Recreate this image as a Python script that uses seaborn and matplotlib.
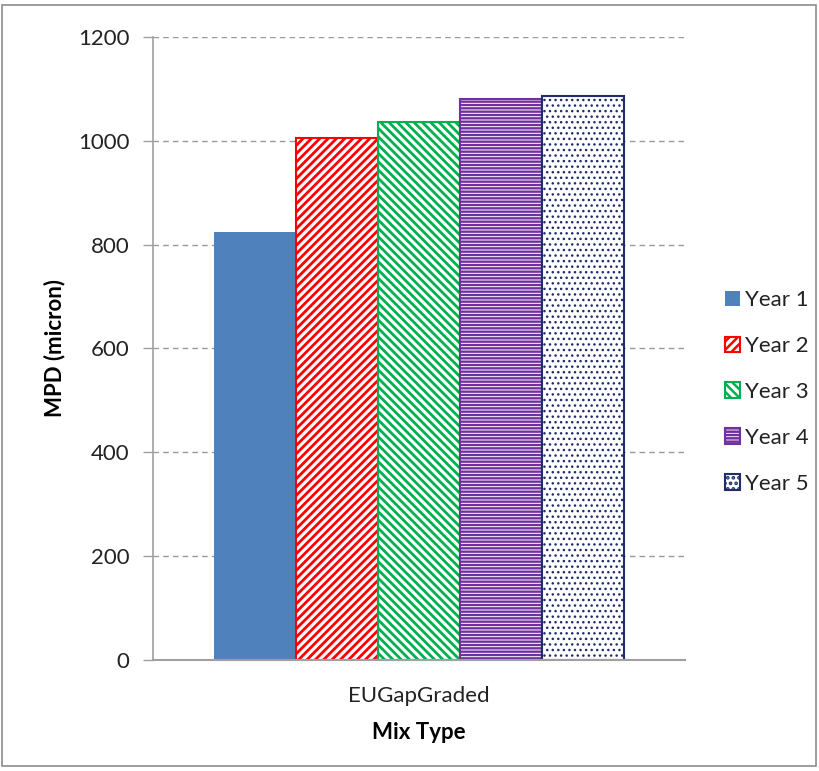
import matplotlib
matplotlib.use("Agg")
import matplotlib.pyplot as plt
import matplotlib.patches as mpatches
import seaborn as sns
import pandas as pd

categories = ["EUGapGraded"]
years = ["Year 1", "Year 2", "Year 3", "Year 4", "Year 5"]
values = [824, 1006, 1036, 1081, 1087]

face_colors = ["#4F81BD", "white", "white", "white", "white"]
edge_colors = ["#4F81BD", "#FF0000", "#00B050", "#7030A0", "#1F2D6B"]
hatch_colors = ["#4F81BD", "#FF0000", "#00B050", "#7030A0", "#6F7FB0"]
hatches = [None, "////", "\\\\\\\\", "-----", "..."]
hatch_lws = [1.0, 2.0, 2.0, 1.7, 1.0]

sns.set_theme(style="white")
plt.rcParams["font.family"] = ["Lato", "DejaVu Sans"]
plt.rcParams["hatch.linewidth"] = 1.8

df = pd.DataFrame({"Mix": categories * len(years), "Year": years, "MPD": values})

fig = plt.figure(figsize=(8.2, 7.71), dpi=100)
ax = fig.add_axes([0.1866, 0.144, 0.6488, 0.808])

sns.barplot(data=df, x="Mix", y="MPD", hue="Year", hue_order=years,
            palette=face_colors, width=0.771, gap=0, ax=ax, legend=False,
            saturation=1)


def style_patch(p, fc, ec, hc, h, hlw):
    p.set_facecolor(fc)
    p.set_edgecolor(ec)
    p.set_linewidth(1.5 if h else 0)
    if h:
        p.set_hatch(h)
        if hasattr(p, "set_hatch_linewidth"):
            p.set_hatch_linewidth(hlw)
        if hasattr(p, "set_hatchcolor"):
            p.set_hatchcolor(hc)


for patch, fc, ec, hc, h, hlw in zip(ax.patches, face_colors, edge_colors, hatch_colors, hatches, hatch_lws):
    style_patch(patch, fc, ec, hc, h, hlw)

ax.set_xlim(-0.5, 0.5)
ax.set_ylim(0, 1200)
ax.set_yticks(range(0, 1201, 200))
ax.yaxis.grid(True, linestyle=(0, (4, 3)), color="#9A9A9A", linewidth=1)
ax.set_axisbelow(True)
for s in ["top", "right"]:
    ax.spines[s].set_visible(False)
ax.spines["left"].set_color("#A0A0A0")
ax.spines["bottom"].set_color("#A0A0A0")
ax.spines["left"].set_linewidth(1.2)
ax.spines["bottom"].set_linewidth(1.5)
ax.tick_params(axis="y", which="both", left=True, length=7, width=1,
               color="#A0A0A0", labelsize=16, labelcolor="#222222", pad=10)
ax.tick_params(axis="x", bottom=False, labelsize=16, labelcolor="#222222", pad=13)

ax.set_ylabel("MPD (micron)", fontsize=16, fontweight="bold", labelpad=9, color="black")
ax.set_xlabel("Mix Type", fontsize=16, fontweight="bold", labelpad=11, color="black")

handles = []
for fc, ec, hc, h, hlw, y in zip(face_colors, edge_colors, hatch_colors, hatches, hatch_lws, years):
    hp = mpatches.Patch(label=y)
    style_patch(hp, fc, ec, hc, h, hlw)
    handles.append(hp)
leg = fig.legend(handles=handles, loc="center left", bbox_to_anchor=(0.884, 0.4916),
                 frameon=False, fontsize=16, handlelength=0.7, handleheight=0.7,
                 handletextpad=0.2, labelspacing=1.16, labelcolor="#222222",
                 borderpad=0, borderaxespad=0)

fig.patches.append(mpatches.Rectangle((0.003, 0.006), 0.992, 0.987, transform=fig.transFigure,
                                      fill=False, edgecolor="#8C8C8C", linewidth=1.2))

fig.savefig("out.png", dpi=100)
